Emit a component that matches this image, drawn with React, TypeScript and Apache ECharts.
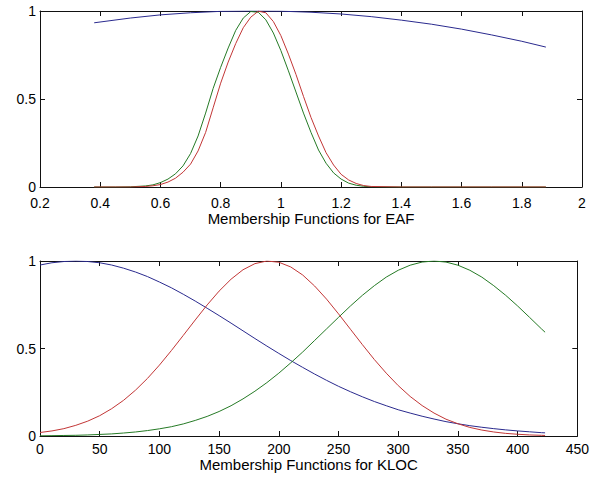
import React, { useEffect, useRef } from "react";
import * as echarts from "echarts";

// ---------- Data: EAF (top plot) ----------
const eafBlueX = [0.38, 0.5, 0.6, 0.7, 0.8, 0.9, 1.0, 1.1, 1.2, 1.3, 1.4, 1.5, 1.6, 1.7, 1.8, 1.88];
const eafBlue = [0.933, 0.96, 0.978, 0.99, 0.998, 1, 0.999, 0.993, 0.983, 0.968, 0.948, 0.925, 0.897, 0.864, 0.828, 0.795];

const eafX = [
  0.38, 0.45, 0.5, 0.55, 0.575, 0.6, 0.625, 0.65, 0.675, 0.7, 0.725, 0.75, 0.775, 0.8, 0.825,
  0.85, 0.875, 0.9, 0.925, 0.95, 0.975, 1.0, 1.025, 1.05, 1.075, 1.1, 1.125, 1.15, 1.175, 1.2,
  1.225, 1.25, 1.275, 1.3, 1.4, 1.5, 1.6, 1.7, 1.8, 1.88,
];
const eafGreen = [
  0, 0, 0.001, 0.006, 0.012, 0.025, 0.045, 0.075, 0.12, 0.19, 0.29, 0.42, 0.56, 0.68, 0.79,
  0.89, 0.96, 0.997, 0.993, 0.95, 0.875, 0.775, 0.66, 0.54, 0.42, 0.31, 0.21, 0.135, 0.08, 0.045,
  0.022, 0.01, 0.004, 0.001, 0, 0, 0, 0, 0, 0,
];
const eafRed = [
  0, 0, 0, 0.003, 0.007, 0.014, 0.028, 0.05, 0.084, 0.13, 0.205, 0.31, 0.45, 0.59, 0.71,
  0.815, 0.905, 0.965, 0.999, 0.99, 0.94, 0.86, 0.755, 0.64, 0.515, 0.395, 0.29, 0.195, 0.125, 0.072,
  0.04, 0.02, 0.008, 0.003, 0, 0, 0, 0, 0, 0,
];

// ---------- Data: KLOC (bottom plot) ----------
const klocX = [
  0, 10, 20, 30, 40, 50, 60, 70, 80, 90, 100, 110, 120, 130, 140, 150, 160, 170, 180, 190, 200,
  210, 220, 230, 240, 250, 260, 270, 280, 290, 300, 310, 320, 330, 340, 350, 360, 370, 380, 390,
  400, 410, 420, 423,
];
const klocBlue = [
  0.977, 0.99, 0.997, 1, 0.997, 0.99, 0.977, 0.959, 0.937, 0.911, 0.88, 0.847, 0.81, 0.771, 0.73,
  0.688, 0.645, 0.601, 0.557, 0.514, 0.472, 0.431, 0.392, 0.354, 0.318, 0.284, 0.253, 0.224, 0.197,
  0.173, 0.15, 0.131, 0.113, 0.097, 0.082, 0.07, 0.059, 0.05, 0.042, 0.035, 0.029, 0.024, 0.019, 0.018,
];
const klocRed = [
  0.02, 0.029, 0.042, 0.061, 0.085, 0.116, 0.156, 0.204, 0.262, 0.329, 0.405, 0.488, 0.575, 0.663,
  0.749, 0.828, 0.896, 0.95, 0.985, 1, 0.993, 0.966, 0.92, 0.857, 0.782, 0.698, 0.61, 0.522, 0.437,
  0.359, 0.288, 0.226, 0.174, 0.131, 0.096, 0.07, 0.049, 0.034, 0.023, 0.015, 0.01, 0.006, 0.004, 0.003,
];
const klocGreen = [
  0.001, 0.002, 0.003, 0.004, 0.006, 0.009, 0.012, 0.017, 0.023, 0.031, 0.041, 0.053, 0.069, 0.089,
  0.112, 0.14, 0.173, 0.212, 0.256, 0.305, 0.359, 0.418, 0.48, 0.546, 0.612, 0.678, 0.743, 0.804,
  0.859, 0.908, 0.947, 0.976, 0.994, 1, 0.994, 0.976, 0.947, 0.908, 0.859, 0.804, 0.743, 0.678, 0.612, 0.593,
];

const eafTicks = { min: 0.2, max: 2, interval: 0.2 };
const klocTicks = { min: 0, max: 450, interval: 50 };
const yTicks = { min: 0, max: 1, interval: 0.5 };
const titles = ["Membership Functions for EAF", "Membership Functions for KLOC"];

const BLUE = "#2a2a8e";
const GREEN = "#257a25";
const RED = "#c23636";
const FONT = "'Liberation Sans', Arial, sans-serif";

function zip(xs: number[], ys: number[]) {
  return xs.map((x, i) => [x, ys[i]]);
}

export default function App() {
  const ref = useRef<HTMLDivElement>(null);
  useEffect(() => {
    if (!ref.current) return;
    const chart = echarts.init(ref.current, undefined, { renderer: "svg" });
    const axisLine = { show: true, onZero: false, lineStyle: { color: "#111", width: 1 } };
    const tick = { show: true, inside: true, length: 5, lineStyle: { color: "#111" } };
    const label = { color: "#000", fontSize: 14, fontFamily: FONT };
    const mkX = (grid: number, t: any, name: string, margin: number, gap: number) => [
      {
        type: "value", gridIndex: grid, position: "bottom", ...t,
        axisLine, axisTick: tick, splitLine: { show: false },
        axisLabel: { ...label, margin },
        name, nameLocation: "middle", nameGap: gap,
        nameTextStyle: { color: "#000", fontSize: 15, fontFamily: FONT },
      },
      {
        type: "value", gridIndex: grid, position: "top", ...t,
        axisLine, axisTick: tick, splitLine: { show: false }, axisLabel: { show: false },
      },
    ];
    const mkY = (grid: number) => [
      {
        type: "value", gridIndex: grid, position: "left", ...yTicks,
        axisLine, axisTick: tick, splitLine: { show: false },
        axisLabel: { ...label, margin: 4 },
      },
      {
        type: "value", gridIndex: grid, position: "right", ...yTicks,
        axisLine, axisTick: tick, splitLine: { show: false }, axisLabel: { show: false },
      },
    ];
    const line = (name: string, color: string, data: number[][], xi: number, yi: number) => ({
      type: "line", name, data, xAxisIndex: xi, yAxisIndex: yi,
      showSymbol: false, symbol: "none", smooth: false,
      lineStyle: { color, width: 1 }, itemStyle: { color },
    });
    chart.setOption({
      animation: false,
      backgroundColor: "#fff",
      grid: [
        { left: 40, top: 11, width: 542, height: 176 },
        { left: 40, top: 261, width: 542, height: 175 },
      ],
      xAxis: [...mkX(0, eafTicks, titles[0], 9, 22), ...mkX(1, klocTicks, titles[1], 6, 15)],
      yAxis: [...mkY(0), ...mkY(1)],
      series: [
        line("eaf-blue", BLUE, zip(eafBlueX, eafBlue), 0, 0),
        line("eaf-green", GREEN, zip(eafX, eafGreen), 0, 0),
        line("eaf-red", RED, zip(eafX, eafRed), 0, 0),
        line("kloc-blue", BLUE, zip(klocX, klocBlue), 2, 2),
        line("kloc-green", GREEN, zip(klocX, klocGreen), 2, 2),
        line("kloc-red", RED, zip(klocX, klocRed), 2, 2),
      ],
    });
    return () => chart.dispose();
  }, []);
  return (
    <div
      ref={ref}
      style={{ position: "fixed", left: 0, top: 0, width: 592, height: 484, background: "#fff" }}
    />
  );
}
